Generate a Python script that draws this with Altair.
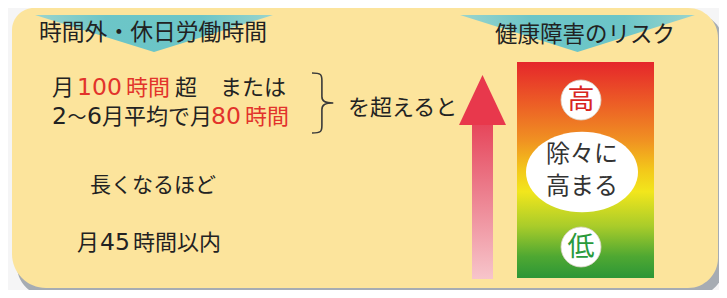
import altair as alt
import pandas as pd

# ---------------- layout (page pixel space) ----------------
W, H = 711, 282
xs = alt.Scale(domain=[8, 719], nice=False, zero=False)
ys = alt.Scale(domain=[290, 8], nice=False, zero=False)
CJK = "Noto Sans CJK JP"
LAT = "DejaVu Sans"

def X(f="x"):
    return alt.X(f"{f}:Q", scale=xs, axis=None)

def Y(f="y"):
    return alt.Y(f"{f}:Q", scale=ys, axis=None)

# ---------------- content ----------------
header_labels = ["時間外・休日労働時間", "健康障害のリスク"]
header_x = [39, 495]
header_y = [39.5, 41.5]

# Japanese segments (black)
black_labels = ["月", "超", "または", "月平均で月", "を超えると", "月", "時間以内"]
black_x = [52, 175, 220, 102, 348, 77, 133]
black_y = [94.5, 94.5, 94.5, 124, 114.5, 249.5, 249.5]

tilde_label = ["～"]
tilde_x = [67.5]
tilde_y = [124]

# digits (black)
black_num = ["2", "6", "45"]
black_num_x = [52, 87, 100]
black_num_y = [124, 124, 249.5]

# red segments
red_labels = ["時間", "時間"]
red_x = [126, 245]
red_y = [94.5, 124]
red_num = ["100", "80"]
red_num_x = [77, 211]
red_num_y = [94.5, 124]

mid_labels = ["長くなるほど"]
mid_x = [90]
mid_y = [192]

risk_high = "高"
risk_low = "低"
risk_mid = ["除々に", "高まる"]
risk_mid_y = [155, 187]

# shapes
panel = pd.DataFrame({"x": [12], "x2": [718], "y": [8], "y2": [288]})
shadow = pd.DataFrame({"x": [17], "x2": [724], "y": [14], "y2": [296]})
banner_left = pd.DataFrame({"x": [154], "y": [33.5]})
banner_right = pd.DataFrame({"x": [577.5], "y": [33.5]})
arrow_head = pd.DataFrame({"x": [482.5], "y": [100]})
arrow_shaft = pd.DataFrame({"x": [472], "x2": [493], "y": [123], "y2": [279]})
column = pd.DataFrame({"x": [517], "x2": [654], "y": [62], "y2": [278]})
circles = pd.DataFrame({"x": [581, 581], "y": [100, 247]})
ellipse = pd.DataFrame({"x": [582], "y": [172]})
brace = pd.DataFrame({"x": [322.5], "y": [103]})

# ---------------- layers ----------------
shadow_l = alt.Chart(shadow).mark_rect(color="#a6acb3", cornerRadius=30).encode(
    x=X(), x2="x2:Q", y=Y(), y2="y2:Q")
panel_l = alt.Chart(panel).mark_rect(
    color="#fce49c", cornerRadiusTopLeft=22, cornerRadiusTopRight=30,
    cornerRadiusBottomLeft=34, cornerRadiusBottomRight=30).encode(
    x=X(), x2="x2:Q", y=Y(), y2="y2:Q")

banner_grad = alt.LinearGradient(
    gradient="linear", x1=0, x2=1, y1=0, y2=0,
    stops=[alt.GradientStop(color="#8fd3d3", offset=0),
           alt.GradientStop(color="#5cc2cc", offset=0.3),
           alt.GradientStop(color="#5cc2cc", offset=0.7),
           alt.GradientStop(color="#8fd3d3", offset=1)])
banner_l1 = alt.Chart(banner_left).mark_point(
    shape="M-1,-0.155 L1,-0.155 L0,0.155 Z", size=238 * 238, filled=True,
    color=banner_grad, opacity=0.9
).encode(x=X(), y=Y())
banner_l2 = alt.Chart(banner_right).mark_point(
    shape="M-1,-0.157 L1,-0.157 L0,0.157 Z", size=235 * 235, filled=True,
    color=banner_grad, opacity=0.9
).encode(x=X(), y=Y())


def text_layer(df, size, color, align="left", font=CJK, baseline="alphabetic"):
    return alt.Chart(df).mark_text(
        fontSize=size, color=color, align=align, baseline=baseline, font=font
    ).encode(x=X(), y=Y(), text="t:N")


def frame(t, x, y):
    return pd.DataFrame({"t": t, "x": x, "y": y})


hdr1 = text_layer(frame(header_labels[:1], header_x[:1], header_y[:1]), 22.8, "#222222")
hdr2 = text_layer(frame(header_labels[1:], header_x[1:], header_y[1:]), 22.5, "#222222")
blk = text_layer(frame(black_labels, black_x, black_y), 22, "#222222")
tld = text_layer(frame(tilde_label, tilde_x, tilde_y), 19, "#222222")
blk_n = text_layer(frame(black_num, black_num_x, black_num_y), 23.5, "#222222", font=LAT)
red = text_layer(frame(red_labels, red_x, red_y), 22, "#e2332b")
red_n = text_layer(frame(red_num, red_num_x, red_num_y), 23.5, "#e2332b", font=LAT)
mid = text_layer(frame(mid_labels, mid_x, mid_y), 21, "#222222")

brace_path = ("M-0.35,-1 C-0.05,-1 -0.02,-0.95 -0.02,-0.75 L-0.02,-0.22 "
              "C-0.02,-0.06 0.08,0 0.36,0 C0.08,0 -0.02,0.06 -0.02,0.22 "
              "L-0.02,0.75 C-0.02,0.95 -0.05,1 -0.35,1")
brace_l = alt.Chart(brace).mark_point(
    shape=brace_path, size=3600, filled=False, color="#3a3a3a", strokeWidth=1.6, opacity=1
).encode(x=X(), y=Y())

shaft_grad = alt.LinearGradient(
    gradient="linear", x1=0, x2=0, y1=0, y2=1,
    stops=[alt.GradientStop(color="#e6455a", offset=0),
           alt.GradientStop(color="#ec7f8e", offset=0.45),
           alt.GradientStop(color="#f7c5cb", offset=1)])
shaft_l = alt.Chart(arrow_shaft).mark_rect(color=shaft_grad).encode(
    x=X(), x2="x2:Q", y=Y(), y2="y2:Q")
head_l = alt.Chart(arrow_head).mark_point(
    shape="M0,-1.064 L1,1.064 L-1,1.064 Z", size=47 * 47, filled=True,
    color="#e8384c", opacity=1
).encode(x=X(), y=Y())

col_grad = alt.LinearGradient(
    gradient="linear", x1=0, x2=0, y1=0, y2=1,
    stops=[alt.GradientStop(color="#e5262b", offset=0),
           alt.GradientStop(color="#ec5a26", offset=0.18),
           alt.GradientStop(color="#f09022", offset=0.36),
           alt.GradientStop(color="#f3c81a", offset=0.5),
           alt.GradientStop(color="#f2e61c", offset=0.6),
           alt.GradientStop(color="#a9cc2a", offset=0.76),
           alt.GradientStop(color="#4fa832", offset=0.9),
           alt.GradientStop(color="#2c9637", offset=1)])
col_l = alt.Chart(column).mark_rect(color=col_grad).encode(
    x=X(), x2="x2:Q", y=Y(), y2="y2:Q")

circ_l = alt.Chart(circles).mark_point(
    shape="circle", size=1600, filled=True, color="white", opacity=1,
    stroke="#d9d2c4", strokeWidth=0.8).encode(x=X(), y=Y())

ell_path = ("M-1,0 C-1,-0.4 -0.552,-0.72 0,-0.72 C0.552,-0.72 1,-0.4 1,0 "
            "C1,0.4 0.552,0.72 0,0.72 C-0.552,0.72 -1,0.4 -1,0 Z")
ell_l = alt.Chart(ellipse).mark_point(
    shape=ell_path, size=12544, filled=True, color="white", opacity=1).encode(x=X(), y=Y())

hi_t = text_layer(frame([risk_high], [581], [101]), 27, "#d8261f", "center", CJK, "middle")
lo_t = text_layer(frame([risk_low], [581], [248]), 27, "#2a9a3c", "center", CJK, "middle")
mid_t = text_layer(frame(risk_mid, [582, 582], risk_mid_y), 24, "#333333", "center", CJK, "middle")

chart = alt.layer(
    shadow_l, panel_l, banner_l1, banner_l2, hdr1, hdr2, blk, tld, blk_n, red, red_n, mid,
    brace_l, shaft_l, head_l, col_l, circ_l, ell_l, hi_t, lo_t, mid_t
).properties(
    width=W, height=H, padding=0, background="#f5f5f6",
    autosize=alt.AutoSizeParams(type="none")
).configure_view(stroke=None)

chart.save("out.html", embed_options={"renderer": "svg", "actions": False})
